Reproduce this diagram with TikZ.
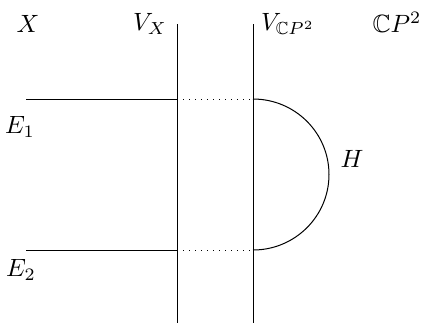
\documentclass[tikz,border=0pt]{standalone}
\usepackage{amssymb}
\begin{document}
\begin{tikzpicture}[x=0.4pt,y=-0.4pt, line width=0.4pt,
  lbl/.style={inner sep=0pt}]
\useasboundingbox (0,0) rectangle (427,323);
\coordinate (vxt) at (177,24);
\coordinate (vxb) at (177,323);
\coordinate (vct) at (253,24);
\coordinate (vcb) at (253,323);
\coordinate (e1l) at (26,99);
\coordinate (e1m) at (177,99);
\coordinate (e1r) at (253,99);
\coordinate (e2l) at (26,250);
\coordinate (e2m) at (177,250);
\coordinate (e2r) at (253,250);
\draw (vxt) -- (vxb);
\draw (vct) -- (vcb);
\draw (e1l) -- (e1m);
\draw (e2l) -- (e2m);
\draw[dotted] (e1m) -- (e1r);
\draw[dotted] (e2m) -- (e2r);
\draw (e1r) arc[start angle=-90, end angle=90, x radius=76, y radius=75.5];
\node[lbl] (X) at (28,24) {$X$};
\node[lbl] (VX) at (150,24) {$V_X$};
\node[lbl] (VC) at (288,24) {$V_{\mathbb{C}P^2}$};
\node[lbl] (CP) at (397,22) {$\mathbb{C}P^2$};
\node[lbl] (E1) at (20,127) {$E_1$};
\node[lbl] (E2) at (21,270) {$E_2$};
\node[lbl] (H) at (352,159) {$H$};
\end{tikzpicture}
\end{document}
